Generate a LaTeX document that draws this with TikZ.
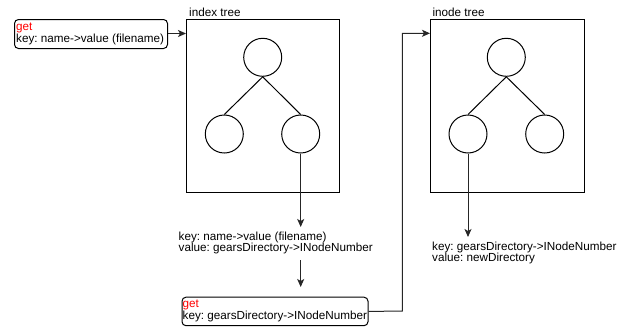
\documentclass[tikz,border=0pt]{standalone}
\usepackage{fontspec}
\setmainfont{Liberation Sans}
\usetikzlibrary{arrows.meta}
\definecolor{getred}{RGB}{255,0,0}
\tikzset{
  lbl/.style={anchor=base west, inner sep=0pt, font=\fontsize{11.7}{13}\selectfont\frenchspacing},
  redlbl/.style={lbl, text=getred},
  treebox/.style={draw, line width=1pt},
  callbox/.style={draw, line width=1pt, rounded corners=4pt},
  tnode/.style={circle, draw, line width=1pt, minimum size=38pt, inner sep=0pt},
  edge/.style={line width=1pt},
  flow/.style={line width=1pt, draw=black!85, -{Stealth[length=8pt,width=7pt,inset=2pt]}}
}
\begin{document}
\begin{tikzpicture}[x=1pt,y=-1pt]
\useasboundingbox (0,0) rectangle (622,327);

% first lookup request
\node[callbox, minimum width=153pt, minimum height=29pt, anchor=north west] (req1) at (14,19) {};
\node[redlbl] (req1get) at (16,30.3) {get};
\node[lbl] (req1key) at (16,42) {key: name->value (filename)};

% index tree
\node[treebox, minimum width=153pt, minimum height=173pt, anchor=north west] (itree) at (186,19) {};
\node[lbl] (itreelbl) at (189,16) {index tree};
\node[tnode] (ia) at (262.7,57.3) {};
\node[tnode] (ib) at (224.3,134) {};
\node[tnode] (ic) at (300.7,134) {};
\draw[edge] (ia.south) -- (ib.north);
\draw[edge] (ia.south) -- (ic.north);

% index tree result
\node[lbl] (ires1) at (178.5,240.3) {key: name->value (filename)};
\node[lbl] (ires2) at (178.5,251.7) {value: gearsDirectory->INodeNumber};
\coordinate (iresin) at (300.7,227);
\coordinate (iresout) at (300.7,260);

% second lookup request
\node[callbox, minimum width=186pt, minimum height=28.5pt, anchor=north west] (req2) at (181.5,296.7) {};
\node[redlbl] (req2get) at (182.5,307.3) {get};
\node[lbl] (req2key) at (182.5,319.3) {key: gearsDirectory->INodeNumber};
\coordinate (req2in) at (300.7,287);

% inode tree
\node[treebox, minimum width=153.5pt, minimum height=172.5pt, anchor=north west] (ntree) at (430,19.3) {};
\node[lbl] (ntreelbl) at (432.3,16) {inode tree};
\node[tnode] (na) at (506.3,57.3) {};
\node[tnode] (nb) at (468,134) {};
\node[tnode] (nc) at (544.7,134) {};
\draw[edge] (na.south) -- (nb.north);
\draw[edge] (na.south) -- (nc.north);

% inode tree result
\node[lbl] (nres1) at (432,250.3) {key: gearsDirectory->INodeNumber};
\node[lbl] (nres2) at (432,261.7) {value: newDirectory};
\coordinate (nresin) at (468,237);

% connectors
\draw[flow] (req1.east |- 0,33.5) -- (itree.west |- 0,33.5);
\draw[flow] (ic.south) -- (iresin);
\draw[flow] (iresout) -- (req2in);
\draw[flow] (req2.east) -- (402.3,311) -- (402.3,33.3) -- (ntree.west |- 0,33.3);
\draw[flow] (nb.south) -- (nresin);
\end{tikzpicture}
\end{document}
